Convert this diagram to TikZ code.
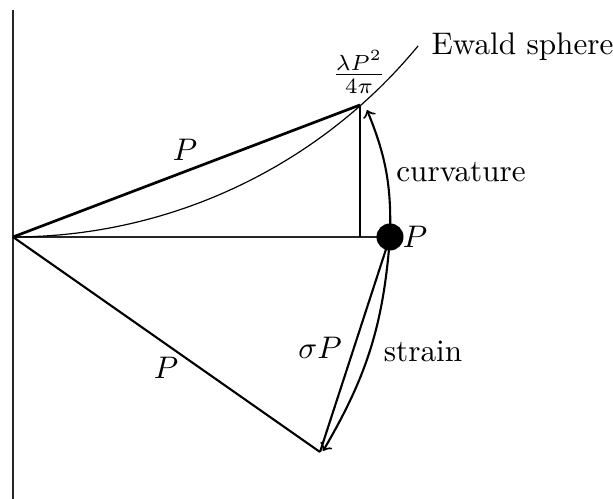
\documentclass[tikz,border=0pt]{standalone}
\begin{document}
\begin{tikzpicture}[x=0.3333pt,y=-0.3333pt,
  lbl/.style={inner sep=0pt,scale=1.04},
  thinline/.style={line width=0.4pt,black!85},
  midline/.style={line width=0.7pt},
  heavyline/.style={line width=0.9pt},
  arr/.style={line width=0.7pt,->}]
\useasboundingbox (0,0) rectangle (613,499);
\coordinate (top) at (13,10);
\coordinate (bot) at (13,499);
\coordinate (O) at (13,237);
\coordinate (A) at (360,105);
\coordinate (F) at (360,237);
\coordinate (B) at (320,452);
\coordinate (Pc) at (390,237);
\coordinate (Ae) at (367,110);
\coordinate (Be) at (323,451);
% axis and base line
\draw[thinline] (top) -- (bot);
\draw[thinline] (O) -- (Pc);
% Ewald sphere
\draw[line width=0.4pt] plot[domain=-90:-39.5,samples=80] ({13+525*cos(\x)},{-288-525*sin(\x)});
% triangle lines
\draw[heavyline] (O) -- (A);
\draw[midline] (O) -- (B);
\draw[midline] (A) -- (F);
\draw[midline] (Pc) -- (B);
% arrows
\draw[arr] (Pc) to[bend right=12] (Ae);
\draw[arr] (Pc) to[bend left=13] (Be);
% dot
\node[circle,fill=black,inner sep=0pt,minimum size=9pt] (P) at (Pc) {};
% labels
\node[lbl] (lP1) at (185,150) {$P$};
\node[lbl] (lP2) at (166,368) {$P$};
\node[lbl] (lsP) at (320,348) {$\sigma P$};
\node[lbl] (lcurv) at (461,172) {curvature};
\node[lbl] (lstrain) at (423,351) {strain};
\node[lbl] (lPd) at (415,237) {$P$};
\node[lbl] (lfrac) at (359,72) {$\frac{\lambda P^2}{4\pi}$};
\node[lbl,anchor=base west] (lew) at (431,55) {Ewald sphere};
\end{tikzpicture}
\end{document}
